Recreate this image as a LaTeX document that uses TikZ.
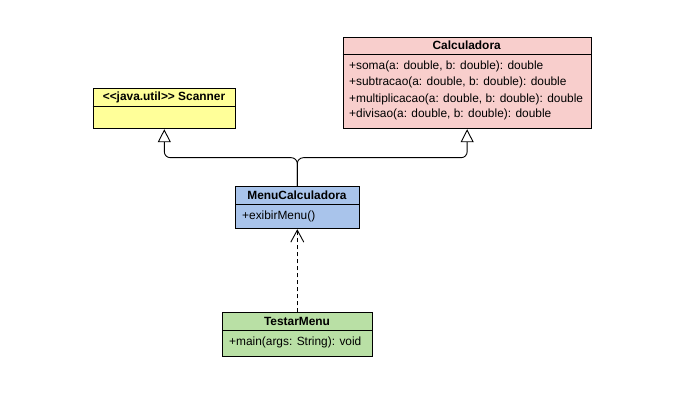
\documentclass[tikz,border=0pt]{standalone}
\usepackage{fontspec}
\setmainfont{Liberation Sans}[Ligatures=NoCommon]
\usetikzlibrary{arrows.meta,calc}
\definecolor{cyellow}{HTML}{FFFF99}
\definecolor{cpink}{HTML}{F8CECC}
\definecolor{cblue}{HTML}{A9C4EB}
\definecolor{cgreen}{HTML}{B9E0A5}
\tikzset{
  classbox/.style={draw=black, line width=0.9pt, anchor=north west, inner sep=0pt, rectangle},
  title/.style={font=\fontsize{11.9}{13}\selectfont\bfseries, inner sep=0pt, anchor=center},
  member/.style={font=\fontsize{11.9}{13}\selectfont, inner sep=0pt, anchor=west},
  sep/.style={draw=black, line width=0.9pt},
  inherit/.style={draw=black, line width=0.9pt, rounded corners=6pt, -{Triangle[open, fill=white, length=13pt, width=13pt]}},
  depend/.style={draw=black, line width=0.9pt, dash pattern=on 4pt off 3pt, -{Straight Barb[length=12pt, width=13pt]}}
}
\begin{document}
\begin{tikzpicture}[x=1pt,y=-1pt]
\useasboundingbox (0,0) rectangle (682,403);
% Scanner
\node[classbox, fill=cyellow, minimum width=142.3pt, minimum height=40pt] (scanner) at (92.7,88.3) {};
\draw[sep] (92.7,106) -- (235,106);
\node[title] (scannerT) at (164,97) {<{}<java.util>{}> Scanner};
% Calculadora
\node[classbox, fill=cpink, minimum width=248pt, minimum height=91.6pt] (calc) at (342.7,36.7) {};
\draw[sep] (342.7,54) -- (590.7,54);
\node[title] (calcT) at (466.7,45) {Calculadora};
\node[member] (c1) at (349,66) {+soma(a: double, b: double): double};
\node[member] (c2) at (349,82.5) {+subtracao(a: double, b: double): double};
\node[member] (c3) at (349,99) {+multiplicacao(a: double, b: double): double};
\node[member] (c4) at (349,114.5) {+divisao(a: double, b: double): double};
% MenuCalculadora
\node[classbox, fill=cblue, minimum width=123.7pt, minimum height=42.3pt] (menu) at (235,186) {};
\draw[sep] (235,204.3) -- (358.7,204.3);
\node[title] (menuT) at (297,195) {MenuCalculadora};
\node[member] (m1) at (242,216.5) {+exibirMenu()};
% TestarMenu
\node[classbox, fill=cgreen, minimum width=149.4pt, minimum height=43.7pt] (testar) at (222.3,312.3) {};
\draw[sep] (222.3,330.7) -- (371.7,330.7);
\node[title] (testarT) at (297,321) {TestarMenu};
\node[member] (t1) at (229,342.5) {+main(args: String): void};
% connectors
\coordinate (junc) at (297.3,157.7);
\draw[inherit] (menu.north -| junc) -- (junc) -| (scanner.south);
\draw[inherit] (menu.north -| junc) -- (junc) -| (calc.south);
\draw[depend] (testar.north -| junc) -- (menu.south -| junc);
\end{tikzpicture}
\end{document}
